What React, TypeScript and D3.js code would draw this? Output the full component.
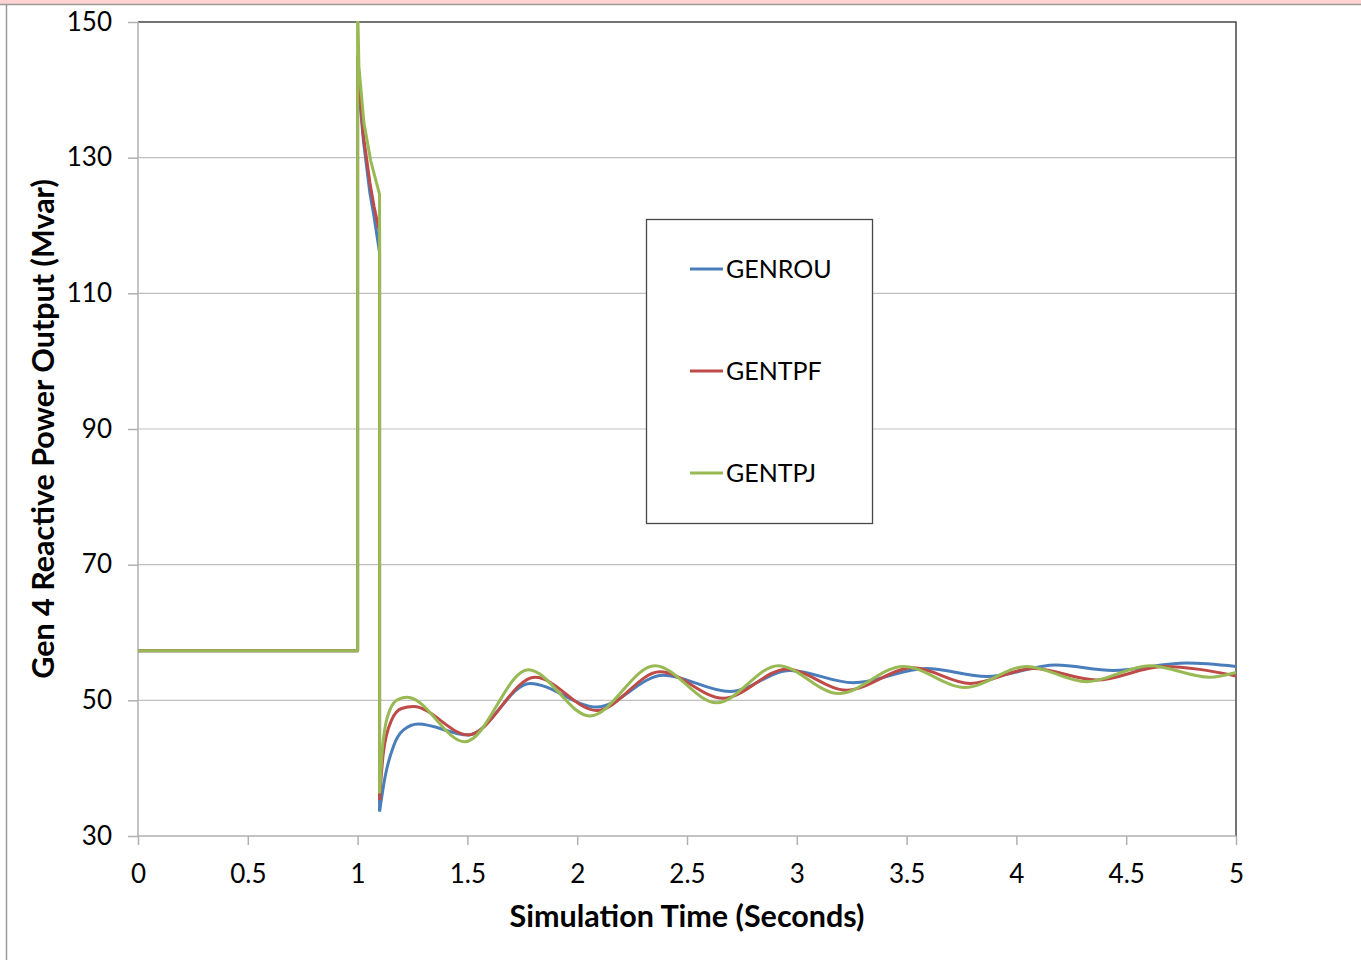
import { useEffect, useRef } from 'react'
import * as d3 from 'd3'

// Gen 4 reactive power after a fault at t=1.0s, cleared at t=1.1s
const seriesNames = ['GENROU', 'GENTPF', 'GENTPJ']
const seriesColors = ['#4a7ebb', '#be4b48', '#98b954']

const xTicks = [0, 0.5, 1, 1.5, 2, 2.5, 3, 3.5, 4, 4.5, 5]
const yTicks = [30, 50, 70, 90, 110, 130, 150]

// pre-fault + during fault: [time, Mvar]
const genrouFault = [[0, 57.3], [1.0, 57.3], [1.0, 144], [1.006, 140], [1.026, 132.6], [1.056, 124.8], [1.075, 121.3], [1.1, 116], [1.1, 33.6]]
const gentpfFault = [[0, 57.3], [1.0, 57.3], [1.0, 145], [1.006, 141.5], [1.025, 133.6], [1.056, 126.3], [1.075, 122.8], [1.1, 119], [1.1, 35.3]]
const gentpjFault = [[0, 57.3], [1.0, 57.3], [1.0, 153], [1.006, 143.4], [1.029, 135.1], [1.06, 129.5], [1.1, 124.6], [1.1, 36.3]]

// post-fault swings
const genrouPost = [[1.1, 33.6], [1.125, 38.7], [1.163, 43.2], [1.208, 45.6], [1.276, 46.5], [1.504, 44.9], [1.785, 52.5], [2.089, 49.0], [2.392, 53.7], [2.696, 51.3], [2.969, 54.4], [3.257, 52.6], [3.59, 54.7], [3.865, 53.5], [4.18, 55.2], [4.44, 54.4], [4.775, 55.5], [5.0, 55.0]]
const gentpfPost = [[1.1, 35.3], [1.117, 42.2], [1.155, 47.1], [1.2, 48.8], [1.254, 49.1], [1.504, 44.9], [1.808, 53.4], [2.089, 48.5], [2.377, 54.2], [2.665, 50.3], [2.954, 54.6], [3.227, 51.5], [3.53, 54.8], [3.79, 52.5], [4.077, 54.7], [4.366, 53.0], [4.669, 55.0], [5.0, 53.6]]
const gentpjPost = [[1.1, 36.3], [1.114, 43.2], [1.147, 48.6], [1.185, 50.15], [1.226, 50.45], [1.489, 43.9], [1.777, 54.5], [2.058, 47.7], [2.354, 55.1], [2.635, 49.65], [2.916, 55.1], [3.19, 51.0], [3.485, 55.0], [3.766, 51.9], [4.047, 55.0], [4.32, 52.75], [4.608, 55.1], [4.88, 53.4], [5.0, 54.1]]

const faultData = [genrouFault, gentpfFault, gentpjFault]
const postData = [genrouPost, gentpfPost, gentpjPost]

const FONT = 'Lato, "Open Sans", sans-serif'

function App() {
  const ref = useRef<SVGSVGElement>(null)

  useEffect(() => {
    if (!ref.current) return
    const width = 1361
    const height = 960
    const svg = d3.select(ref.current)
    svg.selectAll('*').remove()

    // page frame
    svg.append('rect').attr('x', 0).attr('y', 0).attr('width', width).attr('height', 4).attr('fill', '#ffd3d3')
    svg.append('line').attr('x1', 0).attr('x2', width).attr('y1', 4.5).attr('y2', 4.5).attr('stroke', '#9a9a9a').attr('stroke-width', 1.5)
    svg.append('line').attr('x1', 6.5).attr('x2', 6.5).attr('y1', 4).attr('y2', height).attr('stroke', '#9a9a9a').attr('stroke-width', 1.5)

    const left = 138, right = 1236, top = 22, bottom = 836

    const x = d3.scaleLinear().domain([0, 5]).range([left, right])
    const y = d3.scaleLinear().domain([30, 150]).range([bottom, top])

    // gridlines
    svg.append('g')
      .selectAll('line')
      .data(yTicks.slice(1, -1))
      .enter()
      .append('line')
      .attr('x1', left).attr('x2', right)
      .attr('y1', d => y(d)).attr('y2', d => y(d))
      .attr('stroke', '#c0c0c0').attr('stroke-width', 1.2)

    // plot area border (top + right)
    svg.append('path')
      .attr('d', `M${left},${top}H${right}V${bottom}`)
      .attr('fill', 'none').attr('stroke', '#474747').attr('stroke-width', 1.5)

    // axes
    const yAxis = svg.append('g')
      .attr('transform', `translate(${left},0)`)
      .call(d3.axisLeft(y).tickValues(yTicks).tickSize(10).tickPadding(16).tickFormat(d3.format('d')))
    const xAxis = svg.append('g')
      .attr('transform', `translate(0,${bottom})`)
      .call(d3.axisBottom(x).tickValues(xTicks).tickSize(9).tickPadding(20).tickFormat(d => String(d)))

    for (const ax of [yAxis, xAxis]) {
      ax.select('.domain').attr('stroke', '#b0b0b0').attr('stroke-width', 1.5)
      ax.selectAll('.tick line').attr('stroke', '#b0b0b0').attr('stroke-width', 1.5)
      ax.selectAll('.tick text').attr('fill', '#000').attr('font-family', FONT).attr('font-size', 26)
    }
    yAxis.select('.domain').attr('d', `M0,${bottom}V${top}`)
    xAxis.select('.domain').attr('d', `M${left},0H${right}`)

    // series
    svg.append('defs').append('clipPath').attr('id', 'plotClip')
      .append('rect').attr('x', left).attr('y', top - 1).attr('width', right - left + 2).attr('height', bottom - top + 1)

    const lineLinear = d3.line<number[]>().x(d => x(d[0])).y(d => y(d[1]))
    const lineSmooth = d3.line<number[]>().x(d => x(d[0])).y(d => y(d[1])).curve(d3.curveMonotoneX)

    const lines = svg.append('g').attr('clip-path', 'url(#plotClip)')
    seriesNames.forEach((_, i) => {
      lines.append('path')
        .attr('d', lineLinear(faultData[i]))
        .attr('fill', 'none').attr('stroke', seriesColors[i]).attr('stroke-width', 3)
        .attr('stroke-linejoin', 'round')
      lines.append('path')
        .attr('d', lineSmooth(postData[i]))
        .attr('fill', 'none').attr('stroke', seriesColors[i]).attr('stroke-width', 3)
        .attr('stroke-linejoin', 'round')
    })

    // axis titles
    svg.append('text')
      .attr('x', (left + right) / 2).attr('y', 927)
      .attr('text-anchor', 'middle')
      .attr('font-family', FONT).attr('font-weight', 'bold').attr('font-size', 30.5)
      .text('Simulation Time (Seconds)')
    svg.append('text')
      .attr('transform', `translate(54,${(top + bottom) / 2}) rotate(-90)`)
      .attr('text-anchor', 'middle')
      .attr('font-family', FONT).attr('font-weight', 'bold').attr('font-size', 30.5)
      .text('Gen 4 Reactive Power Output (Mvar)')

    // legend
    const legend = svg.append('g')
    legend.append('rect')
      .attr('x', 646.5).attr('y', 219.5).attr('width', 226).attr('height', 304)
      .attr('fill', '#fff').attr('stroke', '#474747').attr('stroke-width', 1.3)
    const item = legend.selectAll('g.item')
      .data(seriesNames)
      .enter()
      .append('g')
      .attr('transform', (_, i) => `translate(690,${269 + i * 102})`)
    item.append('line')
      .attr('x1', 0).attr('x2', 33).attr('y1', 0).attr('y2', 0)
      .attr('stroke', (_, i) => seriesColors[i]).attr('stroke-width', 3)
    item.append('text')
      .attr('x', 36).attr('y', 0).attr('dy', '0.36em')
      .attr('font-family', FONT).attr('font-size', 25)
      .text(d => d)
  }, [])

  return (
    <svg ref={ref} width={1361} height={960}
      style={{ position: 'absolute', left: 0, top: 0, background: '#fff' }} />
  )
}

export default App
